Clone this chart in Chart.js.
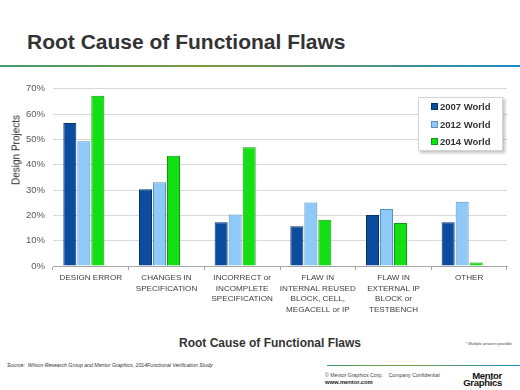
<!DOCTYPE html>
<html>
<head>
<meta charset="utf-8">
<script src="https://cdn.jsdelivr.net/npm/chart.js@4.4.0/dist/chart.umd.min.js"></script>
<style>
body { margin: 0; width: 520px; height: 390px; position: relative; overflow: hidden; background: #fff; font-family: "Liberation Sans", Arial, sans-serif; color: #333; }
#title { position: absolute; left: 27px; top: 30px; font: bold 21px "Liberation Sans", Arial, sans-serif; color: #333; white-space: nowrap; }
#rule { position: absolute; left: 0; top: 65px; width: 520px; height: 2px; background: linear-gradient(to right, #3d9b6e, #7f9b3c 40%, #1b8bc6); }
#chartBox { position: absolute; left: 0; top: 75px; width: 520px; height: 260px; }
#yTitle { position: absolute; left: 16px; top: 150px; transform: translate(-50%, -50%) rotate(-90deg); font-size: 10px; color: #222; white-space: nowrap; }
#legend { position: absolute; left: 418px; top: 97px; width: 83px; height: 52px; background: #fff; border: 1px solid #d4d4d4; box-shadow: 2px 2px 3px rgba(0,0,0,0.25); }
.item { position: absolute; left: 12px; font: bold 9.5px "Liberation Sans", Arial, sans-serif; color: #333; white-space: nowrap; }
.item span { display: inline-block; width: 5px; height: 5px; margin-right: 2px; vertical-align: 0px; }
#xTitle { position: absolute; left: 270px; top: 343px; transform: translate(-50%, -50%); font: bold 12px "Liberation Sans", Arial, sans-serif; color: #333; white-space: nowrap; }
#note { position: absolute; left: 466px; top: 342px; font-size: 3.8px; color: #444; white-space: nowrap; }
#source { position: absolute; left: 7px; top: 362px; font-style: italic; font-size: 5.2px; color: #333; white-space: nowrap; }
#footRule { position: absolute; left: 327px; top: 365px; width: 193px; height: 1px; background: linear-gradient(to right, #3d9b6e, #7f9b3c 40%, #1b8bc6); }
#copy { position: absolute; left: 325px; top: 372px; font-size: 5.2px; color: #444; white-space: nowrap; }
#www { position: absolute; left: 325px; top: 379px; font: bold 5.8px "Liberation Sans", Arial, sans-serif; color: #222; white-space: nowrap; }
#logo { position: absolute; left: 460px; top: 372px; width: 42px; text-align: right; font: bold 9.5px "Liberation Sans", Arial, sans-serif; color: #111; line-height: 7px; letter-spacing: -0.3px; }
</style>
</head>
<body>
<div id="title">Root Cause of Functional Flaws</div>
<div id="rule"></div>
<div id="chartBox"><canvas id="chart"></canvas></div>
<div id="yTitle">Design Projects</div>
<div id="legend"></div>
<div id="xTitle">Root Cause of Functional Flaws</div>
<div id="note">* Multiple answers possible</div>
<div id="source">Source:&nbsp; Wilson Research Group and Mentor Graphics, 2014Functional Verification Study</div>
<div id="footRule"></div>
<div id="copy">© Mentor Graphics Corp.&nbsp;&nbsp;&nbsp; Company Confidential</div>
<div id="www">www.mentor.com</div>
<div id="logo"><div>Mentor</div><div>Graphics</div></div>
<script>
// chart data
const categories = [
    ['DESIGN ERROR'],
    ['CHANGES IN', 'SPECIFICATION'],
    ['INCORRECT or', 'INCOMPLETE', 'SPECIFICATION'],
    ['FLAW IN', 'INTERNAL REUSED', 'BLOCK, CELL,', 'MEGACELL or IP'],
    ['FLAW IN', 'EXTERNAL IP', 'BLOCK or', 'TESTBENCH'],
    ['OTHER']
];
const seriesNames = ['2007 World', '2012 World', '2014 World'];
const world2007 = [56.5, 30.3, 17.3, 15.7, 20.1, 17.3];
const world2012 = [49.3, 33.1, 20.3, 25.1, 22.5, 25.4];
const world2014 = [67.2, 43.5, 46.9, 18.3, 17.0, 1.4];
const yTicks = [0, 10, 20, 30, 40, 50, 60, 70];

const fills = ['#0b4c9e', '#8fc9f8', '#12e012'];
const edges = ['#07346e', '#5b91c4', '#0b9a0b'];

let datasets = [world2007, world2012, world2014].map(function (values, i) {
    return {
        label: seriesNames[i],
        data: values,
        backgroundColor: fills[i],
        borderColor: edges[i],
        borderWidth: 1,
        barPercentage: 0.93,
        categoryPercentage: 0.74
    };
});
// empty slot so the group sits left of the category centre, as in the original
datasets.push({ label: '', data: categories.map(() => null), barPercentage: 0.93, categoryPercentage: 0.74 });

let ctx = document.getElementById('chart').getContext('2d');
let chart = new Chart(ctx, {
    type: 'bar',
    data: { labels: categories, datasets: datasets },
    options: {
        responsive: true,
        maintainAspectRatio: false,
        animation: false,
        layout: { padding: { top: 13, right: 13, left: 0, bottom: 0 } },
        plugins: {
            legend: { display: false },
            tooltip: { enabled: false }
        },
        scales: {
            x: {
                grid: { display: true, drawOnChartArea: false, drawTicks: true, tickLength: 4, color: '#a6a6a6', offset: true },
                border: { display: true, color: '#a6a6a6' },
                ticks: {
                    autoSkip: false, maxRotation: 0, minRotation: 0, padding: 3,
                    color: '#404040',
                    font: { family: 'Liberation Sans', size: 8.1, lineHeight: 1.28 }
                },
                afterFit: function (scale) { scale.height = 69; }
            },
            y: {
                min: 0,
                max: 70,
                afterBuildTicks: function (scale) { scale.ticks = yTicks.map(v => ({ value: v })); },
                grid: { color: '#d9d9d9', drawTicks: false },
                border: { display: false },
                ticks: {
                    padding: 8,
                    color: '#595959',
                    font: { family: 'Liberation Sans', size: 9.5 },
                    callback: function (v) { return v + '%'; }
                },
                afterFit: function (scale) { scale.width = 53; }
            }
        }
    }
});

// legend box
let legendDiv = document.getElementById('legend');
seriesNames.forEach(function (name, i) {
    let item = document.createElement('div');
    item.className = 'item';
    item.style.top = (3 + i * 17.5) + 'px';
    item.innerHTML = '<span style="background:' + fills[i] + ';border:0.5px solid ' + edges[i] + '"></span>' + name;
    legendDiv.appendChild(item);
});
</script>
</body>
</html>
